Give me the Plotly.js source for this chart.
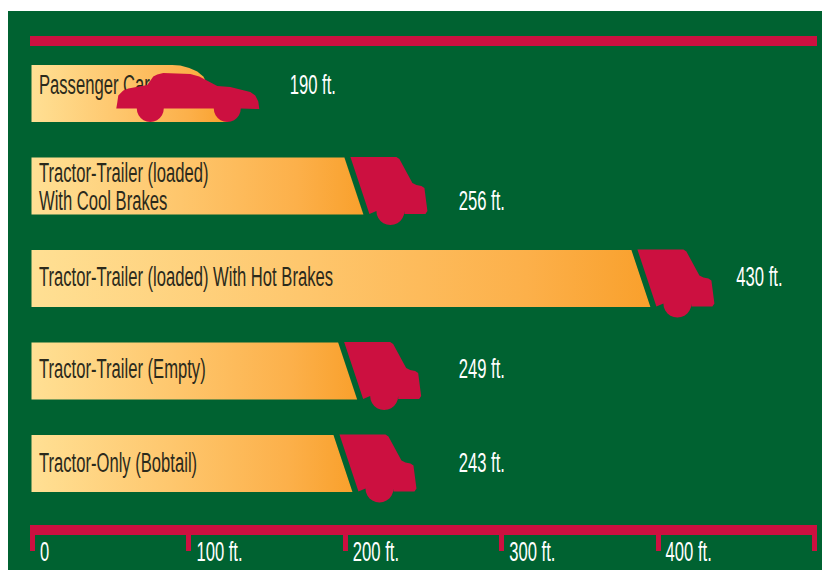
<!DOCTYPE html>
<html><head><meta charset="utf-8">
<script src="https://cdn.plot.ly/plotly-3.0.1.min.js"></script>
<style>html,body{margin:0;padding:0;background:#fff;overflow:hidden}#g{position:absolute;left:8px;top:11px;width:814px;height:559px}</style>
</head><body><div id="g"></div>
<script>
// Data
const categories = ["Passenger Car","Tractor-Trailer (loaded)<br>With Cool Brakes","Tractor-Trailer (loaded) With Hot Brakes","Tractor-Trailer (Empty)","Tractor-Only (Bobtail)"];
const stoppingFt = [190,256,430,249,243];
const drawnNoseFt = [145,252.5,436,248.5,245.5];
const valueLabelFt = [164.5,272.5,450,272.5,272.5];
const tickVals = [0,100,200,300,400,500];
const tickLabels = ["0","100 ft.","200 ft.","300 ft.","400 ft.",""];

// Appearance and scale
const GREEN="#006231", RED="#cc1040", INK="#2b2a1c";
const BAR_SCALE=[[0,"#ffe094"],[0.45,"#fec66c"],[0.8,"#fcb04a"],[1,"#f9a02c"]];
const FONT="'Liberation Sans',Arial,sans-serif", FONT_SIZE=27, CONDENSE=0.615;
const PX_FT=1.564, PX_ROW=92.5;
const dx=p=>p/PX_FT, dy=p=>p/PX_ROW;
const valueShiftPx=[-6.5,17,1,0,1.5], nameShiftPx=[-6.5,2,1,0,1.5], LINE_PX=14;

// Glyph outlines: pixel offsets from nose (x) and row centre (y)
function arc(cx,cy,r){const o=[];for(let a=0;a<=180;a+=15){const t=a*Math.PI/180;o.push([cx+r*Math.cos(t),cy+r*Math.sin(t)]);}return o;}
const truckOutline=[[-77,-29],[-31,-29],[-28,-27],[-15,-3],[-11,-1],[-6,0],[-3,2],[0,25],[-2,28],[-23,28]]
  .concat(arc(-37,25,14)).concat([[-58,28]]);
const truckBarEnd=[[-83,-28.5],[-64,28.5]];
const carOutline=[[-143,15],[-142,9],[-141,2],[-136,-3],[-131,-5],[-112,-8.5],[-106,-17],[-102,-19],[-96,-20.5],[-69,-19.5],[-60,-17],[-42,-7.5],[-29,-6.5],[-9,-1.5],[-4,2],[-1,8],[0,15.5]]
  .concat(arc(-32,15,13.5)).concat(arc(-109,15,13.5));
const carBarEnd=[[-87,-28.5],[-79,-28],[-70,-25.5],[-62,-22],[-56,-17],[-31,28.5]];

const traces=[];
const BAR_START=dx(-1);
// Bars
categories.forEach((c,i)=>{
  const nose=drawnNoseFt[i];
  const end=i===0?carBarEnd:truckBarEnd;
  const xs=[BAR_START],ys=[i-dy(28.5)];
  end.forEach(p=>{xs.push(nose+dx(p[0]));ys.push(i+dy(p[1]));});
  xs.push(BAR_START,BAR_START);ys.push(i+dy(28.5),i-dy(28.5));
  traces.push({type:"scatter",mode:"none",x:xs,y:ys,fill:"toself",
    fillgradient:{type:"horizontal",colorscale:BAR_SCALE},
    hoverinfo:"skip",showlegend:false});
});
// Bar names, one point per printed line
const nameX=[],nameY=[],nameT=[];
categories.forEach((c,i)=>{
  const lines=c.split("<br>");
  lines.forEach((t,k)=>{nameX.push(dx(6.5));nameY.push(i+dy(nameShiftPx[i]+(k-(lines.length-1)/2)*2*LINE_PX+(lines.length>1?1:0)));nameT.push(t);});
});
traces.push({type:"scatter",mode:"text",x:nameX,y:nameY,text:nameT,
  textposition:"middle right",textfont:{family:FONT,size:FONT_SIZE,color:INK},hoverinfo:"skip",showlegend:false});
// Vehicles
categories.forEach((c,i)=>{
  const o=i===0?carOutline:truckOutline;
  const xs=o.map(p=>drawnNoseFt[i]+dx(p[0])), ys=o.map(p=>i+dy(p[1]));
  xs.push(xs[0]);ys.push(ys[0]);
  traces.push({type:"scatter",mode:"none",x:xs,y:ys,fill:"toself",fillcolor:RED,hoverinfo:"skip",showlegend:false});
});
// Values
traces.push({type:"scatter",mode:"text",x:valueLabelFt,y:categories.map((c,i)=>i+dy(valueShiftPx[i])),
  text:stoppingFt.map(v=>v+" ft."),textposition:"middle right",textfont:{family:FONT,size:FONT_SIZE,color:"#fff"},hoverinfo:"skip",showlegend:false});

const layout={
  width:814,height:559,paper_bgcolor:GREEN,plot_bgcolor:GREEN,showlegend:false,
  margin:{l:22,r:5,t:35,b:45,pad:0},
  xaxis:{range:[-1.6,501.6],tickmode:"array",tickvals:tickVals,ticktext:tickLabels,showgrid:false,zeroline:false,
    showline:true,linecolor:RED,linewidth:10,mirror:true,ticks:"outside",ticklen:16,tickwidth:5,tickcolor:RED,
    ticklabelposition:"outside right",ticklabelstandoff:-6,ticklabelshift:0,tickfont:{family:FONT,size:FONT_SIZE,color:"#fff"},fixedrange:true},
  yaxis:{range:[4.665,-0.514],visible:false,fixedrange:true}
};
function condense(){
  document.querySelectorAll("#g .textpoint text, #g .xtick text").forEach(t=>{
    if(!t.textContent) return;
    t.removeAttribute("textLength");
    const w=t.getComputedTextLength();
    t.setAttribute("lengthAdjust","spacingAndGlyphs");
    t.setAttribute("textLength",(w*CONDENSE).toFixed(1));
  });
}
Plotly.newPlot("g",traces,layout,{displayModeBar:false,staticPlot:true}).then(condense);
</script></body></html>
